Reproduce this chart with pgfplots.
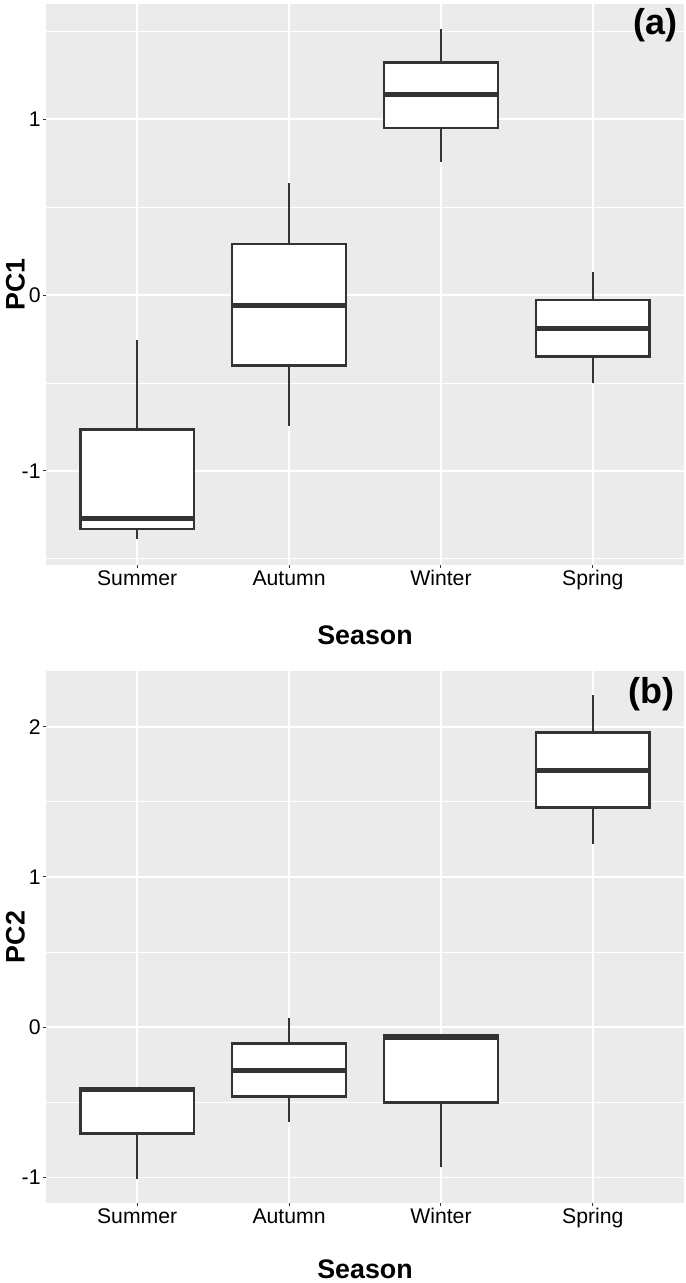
\documentclass[border=0pt]{standalone}
\usepackage{pgfplots}
\pgfplotsset{compat=1.18}
\usepgfplotslibrary{statistics}
\usepackage{fontspec}
\setmainfont{Liberation Sans}
\definecolor{panelbg}{HTML}{EBEBEB}
\definecolor{boxline}{HTML}{333333}
\pgfplotsset{ggbox/.style={
  width=319pt, scale only axis,
  xmin=0.4, xmax=4.6,
  xtick={1,2,3,4}, xticklabels={Summer,Autumn,Winter,Spring},
  axis line style={draw=none},
  axis background/.style={fill=panelbg},
  grid=both,
  major grid style={white, line width=0.8pt},
  minor grid style={white, line width=0.4pt},
  tick style={boxline, line width=0.5pt},
  major tick length=1.5pt, minor tick length=0pt,
  tick align=outside,
  xtick pos=bottom, ytick pos=left,
  ticklabel style={font=\fontsize{10.6}{12}\selectfont, text=black},
  /pgf/number format/assume math mode=true,
  yticklabel style={inner sep=1pt},
  xticklabel style={inner sep=1pt, text height=1.45ex, text depth=0.5ex},
  xlabel={Season},
  xlabel style={font=\fontsize{13.4}{15}\selectfont\bfseries, at={(axis description cs:0.5,-0.125)}, anchor=center},
  ylabel style={font=\fontsize{13.4}{15}\selectfont\bfseries, at={(axis description cs:-0.048,0.5)}, anchor=center},
  boxplot/draw direction=y,
  boxplot/box extend=0.75,
  boxplot/whisker extend=0,
  boxplot/every median/.style={line width=2.5pt},
  gb/.style={draw=boxline, fill=white, line width=1.35pt, solid, mark=none},
}}
\begin{document}
\begin{tikzpicture}
\useasboundingbox (0,0) rectangle (342.5pt,641.5pt);
% Panel (a)
\begin{axis}[ggbox, at={(23pt,359pt)}, anchor=south west, height=280.5pt,
  ymin=-1.535, ymax=1.655,
  ytick={-1,0,1}, minor ytick={-1.5,-0.5,0.5,1.5},
  ylabel={PC1}]
\addplot+[gb, boxplot prepared={draw position=1, lower whisker=-1.385, lower quartile=-1.330, median=-1.272, upper quartile=-0.763, upper whisker=-0.257}] coordinates {};
\addplot+[gb, boxplot prepared={draw position=2, lower whisker=-0.744, lower quartile=-0.40, median=-0.057, upper quartile=0.29, upper whisker=0.636}] coordinates {};
\addplot+[gb, boxplot prepared={draw position=3, lower whisker=0.756, lower quartile=0.949, median=1.142, upper quartile=1.324, upper whisker=1.511}] coordinates {};
\addplot+[gb, boxplot prepared={draw position=4, lower whisker=-0.50, lower quartile=-0.35, median=-0.19, upper quartile=-0.028, upper whisker=0.13}] coordinates {};
\end{axis}
% Panel (b)
\begin{axis}[ggbox, at={(23pt,40pt)}, anchor=south west, height=266pt,
  ymin=-1.171, ymax=2.371,
  ytick={-1,0,1,2}, minor ytick={-0.5,0.5,1.5},
  ylabel={PC2}]
\addplot+[gb, boxplot prepared={draw position=1, lower whisker=-1.01, lower quartile=-0.71, median=-0.415, upper quartile=-0.41, upper whisker=-0.405}] coordinates {};
\addplot+[gb, boxplot prepared={draw position=2, lower whisker=-0.63, lower quartile=-0.46, median=-0.29, upper quartile=-0.11, upper whisker=0.06}] coordinates {};
\addplot+[gb, boxplot prepared={draw position=3, lower whisker=-0.93, lower quartile=-0.50, median=-0.07, upper quartile=-0.055, upper whisker=-0.045}] coordinates {};
\addplot+[gb, boxplot prepared={draw position=4, lower whisker=1.22, lower quartile=1.46, median=1.71, upper quartile=1.96, upper whisker=2.21}] coordinates {};
\end{axis}
\node[font=\fontsize{18}{20}\selectfont\bfseries] at (327.5pt,629pt) {(a)};
\node[font=\fontsize{18}{20}\selectfont\bfseries] at (325.5pt,294.5pt) {(b)};
\end{tikzpicture}
\end{document}
